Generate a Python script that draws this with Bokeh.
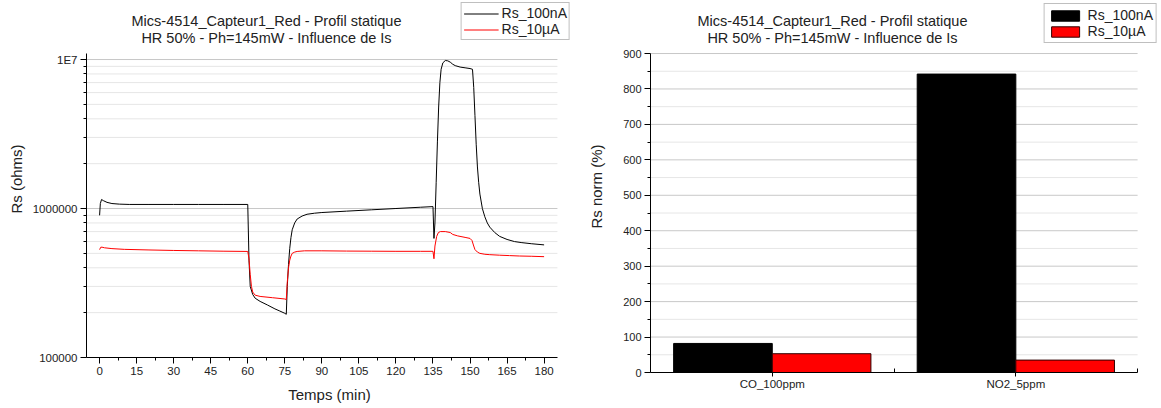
from bokeh.plotting import figure
from bokeh.layouts import row, column
from bokeh.models import FixedTicker, Label, Legend, LegendItem, Range1d
from bokeh.embed import file_html
from bokeh.resources import INLINE

# ---------------- data ----------------
time_100nA = [0, 0.3, 0.8, 1.5, 3, 5, 8, 12, 20, 30, 40, 50, 60, 60.5, 61, 62, 63, 65, 68, 71, 73, 75, 75.6,
              76, 76.5, 77, 77.5, 78, 79, 80, 82, 84, 87, 90, 100, 110, 120, 130, 135, 135.4, 135.8, 136.3,
              136.8, 137.3, 137.8, 138.3, 139, 140, 141, 142, 143, 144, 146, 148, 150, 151, 151.5, 152,
              152.5, 153, 153.5, 154, 155, 156, 157, 158, 160, 162, 165, 168, 171, 175, 180]
rs_100nA = [9.0e5, 1.08e6, 1.15e6, 1.13e6, 1.10e6, 1.08e6, 1.07e6, 1.065e6, 1.065e6, 1.065e6, 1.065e6,
            1.065e6, 1.065e6, 4.5e5, 3.0e5, 2.65e5, 2.5e5, 2.38e5, 2.25e5, 2.12e5, 2.05e5, 1.98e5, 1.95e5,
            3.0e5, 4.2e5, 5.4e5, 6.4e5, 7.2e5, 8.0e5, 8.5e5, 8.9e5, 9.15e5, 9.3e5, 9.4e5, 9.6e5, 9.8e5,
            1.0e6, 1.02e6, 1.03e6, 6.3e5, 8.0e5, 1.5e6, 2.8e6, 4.8e6, 7.0e6, 8.6e6, 9.5e6, 9.85e6, 9.8e6,
            9.6e6, 9.3e6, 9.1e6, 8.9e6, 8.8e6, 8.7e6, 8.6e6, 6.5e6, 4.2e6, 2.7e6, 1.9e6, 1.5e6, 1.25e6,
            1.0e6, 8.8e5, 8.0e5, 7.5e5, 6.9e5, 6.5e5, 6.2e5, 6.0e5, 5.9e5, 5.8e5, 5.7e5]

time_10uA = [0, 0.5, 1, 2, 5, 10, 20, 30, 40, 50, 60, 60.5, 61, 61.5, 62, 63, 65, 70, 75, 75.6, 76, 76.5,
             77, 77.5, 78, 79, 80, 83, 90, 100, 110, 120, 130, 135, 135.4, 135.8, 136.5, 137.2, 138, 140,
             142, 143, 145, 148, 150, 150.8, 151.5, 152, 153, 154, 156, 158, 162, 166, 170, 175, 180]
rs_10uA = [5.3e5, 5.5e5, 5.5e5, 5.45e5, 5.38e5, 5.32e5, 5.27e5, 5.23e5, 5.2e5, 5.17e5, 5.15e5, 4.6e5,
           3.6e5, 3.0e5, 2.75e5, 2.62e5, 2.57e5, 2.52e5, 2.47e5, 2.45e5, 3.2e5, 4.0e5, 4.5e5, 4.8e5,
           5.0e5, 5.1e5, 5.15e5, 5.2e5, 5.2e5, 5.18e5, 5.17e5, 5.16e5, 5.16e5, 5.16e5, 4.6e5, 5.6e5,
           6.5e5, 6.9e5, 7.0e5, 7.0e5, 6.9e5, 6.7e5, 6.55e5, 6.4e5, 6.3e5, 6.1e5, 5.6e5, 5.3e5, 5.1e5,
           5.0e5, 4.93e5, 4.9e5, 4.86e5, 4.83e5, 4.8e5, 4.78e5, 4.75e5]

x_tick_values = list(range(0, 181, 15))
y_major_ticks = [1e5, 1e6, 1e7]
y_tick_labels = ["100000", "1000000", "1E7"]

categories = ["CO_100ppm", "NO2_5ppm"]
norm_100nA = [82, 842]
norm_10uA = [53, 35]
bar_y_ticks = list(range(0, 901, 100))

title_line1 = "Mics-4514_Capteur1_Red - Profil statique"
title_line2 = "HR 50% - Ph=145mW - Influence de Is"

FONT = "Liberation Sans"
TICK_FS = "11.5px"
MAJOR_GRID = "#c8c8c8"
MINOR_GRID = "#e6e6e6"


def style_axis(ax):
    ax.axis_line_color = "black"
    ax.axis_line_width = 1
    ax.major_tick_line_color = "black"
    ax.minor_tick_line_color = "black"
    ax.major_tick_in = 0
    ax.major_tick_out = 6
    ax.minor_tick_in = 0
    ax.minor_tick_out = 3
    ax.major_label_text_font = FONT
    ax.major_label_text_font_size = TICK_FS
    ax.major_label_text_color = "#222222"
    ax.axis_label_text_font = FONT
    ax.axis_label_text_font_size = "15px"
    ax.axis_label_text_font_style = "normal"
    ax.axis_label_text_color = "#222222"


def title_label(text, x, y, y_units):
    return Label(x=x, y=y, x_units="screen", y_units=y_units, text=text,
                 text_align="center", text_baseline="middle", text_font=FONT,
                 text_font_size="14.5px", text_color="#222222")


def grid_lines(p, x0, x1, major, minor):
    p.segment(x0=[x0] * len(minor), x1=[x1] * len(minor), y0=minor, y1=minor,
              line_color=MINOR_GRID, line_width=1)
    p.segment(x0=[x0] * len(major), x1=[x1] * len(major), y0=major, y1=major,
              line_color=MAJOR_GRID, line_width=1)


def style_legend(lg, margin):
    lg.location = "top_right"
    lg.margin = margin
    lg.border_line_color = "#808080"
    lg.border_line_width = 1
    lg.background_fill_color = "white"
    lg.background_fill_alpha = 1
    lg.label_text_font = FONT
    lg.label_text_font_size = "14px"
    lg.label_text_color = "#222222"
    lg.glyph_width = 35
    lg.glyph_height = 13
    lg.label_height = 14
    lg.label_standoff = 3
    lg.padding = 2
    lg.spacing = 0


# ---------------- left chart ----------------
x_bounds = (-5.3, 185.4)
y_bounds = (1e5, 1.09e7)
p1 = figure(width=572, height=405, y_axis_type="log", x_range=Range1d(-5.3, 191.5),
            y_range=Range1d(1e5, 2.49e7), output_backend="svg", toolbar_location=None,
            min_border_left=86, min_border_right=0, min_border_top=0, min_border_bottom=48)
p1.outline_line_color = None
p1.xgrid.visible = False
p1.ygrid.visible = False

y_minor = [k * 10 ** e for e in (5, 6) for k in range(2, 10)]
grid_lines(p1, x_bounds[0], x_bounds[1], y_major_ticks[1:], y_minor)

r_black = p1.line(time_100nA, rs_100nA, line_color="black", line_width=1)
r_red = p1.line(time_10uA, rs_10uA, line_color="#ff0000", line_width=1)

minor_x = [t + 7.5 for t in x_tick_values[:-1]]
p1.xaxis.ticker = FixedTicker(ticks=x_tick_values, minor_ticks=minor_x)
p1.xaxis.bounds = x_bounds
p1.yaxis.ticker = FixedTicker(ticks=y_major_ticks, minor_ticks=y_minor)
p1.yaxis.bounds = y_bounds
p1.yaxis.major_label_overrides = {v: s for v, s in zip(y_major_ticks, y_tick_labels)}
p1.xaxis.axis_label = "Temps (min)"
p1.yaxis.axis_label = "Rs (ohms)"
for ax in (p1.xaxis[0], p1.yaxis[0]):
    style_axis(ax)
p1.xaxis.major_label_standoff = 3
p1.xaxis.axis_label_standoff = 8
p1.yaxis.major_label_standoff = 3
p1.yaxis.axis_label_standoff = 5

leg1 = Legend(items=[LegendItem(label="Rs_100nA", renderers=[r_black]),
                     LegendItem(label="Rs_10µA", renderers=[r_red])])
p1.add_layout(leg1)
style_legend(leg1, 2)
# frame bottom of the left chart sits 357 px below the top of the canvas
p1.add_layout(title_label(title_line1, 180, 337, "screen"))
p1.add_layout(title_label(title_line2, 180, 320, "screen"))

# ---------------- right chart ----------------
bx_bounds = (0.5, 2.5)
p2 = figure(width=588, height=406, x_range=Range1d(0.5, 2.594), y_range=Range1d(0, 1049.6),
            output_backend="svg", toolbar_location=None,
            min_border_left=78, min_border_right=0, min_border_top=0, min_border_bottom=34)
p2.outline_line_color = None
p2.xgrid.visible = False
p2.ygrid.visible = False
bar_minor = [v + 50 for v in bar_y_ticks[:-1]]
grid_lines(p2, bx_bounds[0], bx_bounds[1], bar_y_ticks[1:], bar_minor)

xpos = [i + 1 for i in range(len(categories))]
bw = 0.405
b_black = p2.vbar(x=[x - bw / 2 for x in xpos], top=norm_100nA, width=bw, fill_color="black",
                  line_color="black")
b_red = p2.vbar(x=[x + bw / 2 for x in xpos], top=norm_10uA, width=bw, fill_color="#ff0000",
                line_color="#300000")
p2.xaxis.ticker = FixedTicker(ticks=xpos, minor_ticks=[x + 0.5 for x in xpos])
p2.xaxis.major_label_overrides = {x: c for x, c in zip(xpos, categories)}
p2.xaxis.bounds = bx_bounds
p2.yaxis.ticker = FixedTicker(ticks=bar_y_ticks, minor_ticks=bar_minor)
p2.yaxis.bounds = (0, 900)
p2.yaxis.axis_label = "Rs norm (%)"
for ax in (p2.xaxis[0], p2.yaxis[0]):
    style_axis(ax)
p2.xaxis.major_tick_out = 4
p2.xaxis.minor_tick_in = 4
p2.xaxis.minor_tick_out = 0
p2.xaxis.major_label_standoff = 1
p2.yaxis.major_label_standoff = 3
p2.yaxis.axis_label_standoff = 15
p2.yaxis.major_label_text_font_size = "11px"

leg2 = Legend(items=[LegendItem(label="Rs_100nA", renderers=[b_black]),
                     LegendItem(label="Rs_10µA", renderers=[b_red])])
p2.add_layout(leg2)
style_legend(leg2, 3)
leg2.padding = 3
leg2.label_standoff = 5
# title placed in data units of the bar axis (values above the 900 top)
p2.add_layout(title_label(title_line1, 182, 993, "data"))
p2.add_layout(title_label(title_line2, 182, 945, "data"))

layout = row(column(p1), column(p2))
open("out.html", "w").write(file_html(layout, INLINE))
